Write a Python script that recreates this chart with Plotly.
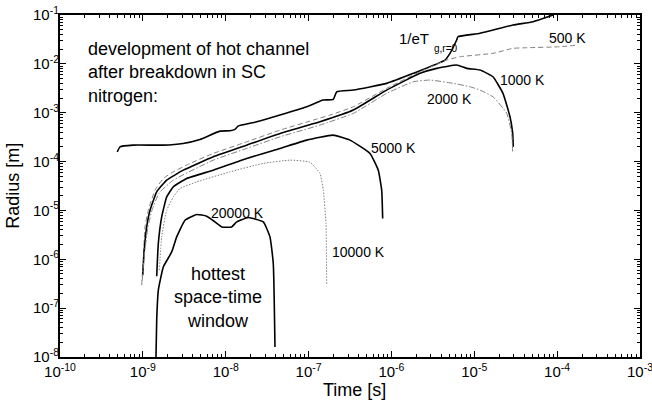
import plotly.graph_objects as go

# ---- data (time [s], radius [m]) ----
t_eT = [4.91e-10, 5.30e-10, 7.60e-10, 1.75e-9, 3.05e-9, 4.89e-9, 8.53e-9, 1.126e-8, 1.294e-8, 1.406e-8,
        2.365e-8, 4.52e-8, 9.49e-8, 1.493e-7, 1.987e-7, 2.185e-7, 3.465e-7, 8.76e-7, 1.835e-6, 4.43e-6,
        5.09e-6, 6.13e-6, 6.36e-6, 1.172e-5, 2.93e-5, 5.11e-5, 8.91e-5]
r_eT = [1.58e-4, 2.00e-4, 2.17e-4, 2.17e-4, 2.35e-4, 2.84e-4, 4.20e-4, 4.26e-4, 4.55e-4, 5.32e-4,
        6.52e-4, 8.94e-4, 1.322e-3, 1.814e-3, 1.875e-3, 2.683e-3, 2.906e-3, 3.99e-3, 6.39e-3, 1.197e-2,
        1.642e-2, 3.075e-2, 3.59e-2, 4.22e-2, 6.24e-2, 7.29e-2, 1.0e-1]

t_500 = [9.68e-10, 1.012e-9, 1.061e-9, 1.163e-9, 1.401e-9, 1.765e-9, 2.33e-9, 3.71e-9, 7.08e-9, 1.791e-8,
         4.52e-8, 1.140e-7, 1.813e-7, 3.465e-7, 8.76e-7, 2.212e-6, 4.64e-6, 6.72e-6, 1.681e-5, 2.93e-5,
         4.33e-5, 1.082e-4, 1.784e-4]
r_500 = [2.94e-7, 9.56e-7, 4.60e-6, 1.011e-5, 2.598e-5, 4.51e-5, 6.16e-5, 9.16e-5, 1.468e-4, 2.536e-4,
         4.40e-4, 7.06e-4, 8.94e-4, 1.322e-3, 3.15e-3, 6.89e-3, 1.197e-2, 1.399e-2, 1.642e-2, 2.078e-2,
         2.14e-2, 2.24e-2, 2.43e-2]

t_1000 = [9.96e-10, 1.032e-9, 1.112e-9, 1.22e-9, 1.469e-9, 1.94e-9, 3.08e-9, 7.08e-9, 1.791e-8, 4.52e-8,
          1.373e-7, 3.465e-7, 8.76e-7, 2.212e-6, 3.52e-6, 6.13e-6, 8.10e-6, 1.172e-5, 1.681e-5, 2.22e-5,
          2.698e-5, 2.906e-5, 2.955e-5]
r_1000 = [4.71e-7, 1.33e-6, 4.60e-6, 1.011e-5, 2.398e-5, 4.16e-5, 6.67e-5, 1.25e-4, 2.17e-4, 3.77e-4,
          6.52e-4, 1.132e-3, 2.906e-3, 6.39e-3, 8.09e-3, 9.45e-3, 8.09e-3, 7.47e-3, 5.44e-3, 2.488e-3,
          8.25e-4, 3.82e-4, 2.00e-4]

t_2000 = [9.82e-10, 1.046e-9, 1.153e-9, 1.289e-9, 1.566e-9, 2.33e-9, 7.08e-9, 1.791e-8, 4.52e-8, 1.373e-7,
          3.465e-7, 8.76e-7, 1.835e-6, 2.92e-6, 5.58e-6, 8.87e-6, 1.172e-5, 1.681e-5, 2.46e-5, 2.827e-5,
          2.906e-5]
r_2000 = [3.72e-7, 1.33e-6, 4.60e-6, 1.011e-5, 2.255e-5, 4.16e-5, 1.07e-4, 1.858e-4, 3.21e-4, 5.58e-4,
          9.68e-4, 2.488e-3, 4.30e-3, 4.66e-3, 3.99e-3, 3.40e-3, 2.906e-3, 2.12e-3, 9.82e-4, 3.82e-4,
          1.58e-4]

t_5000 = [1.469e-9, 1.536e-9, 1.688e-9, 1.94e-9, 2.33e-9, 3.38e-9, 7.08e-9, 1.791e-8, 4.52e-8, 9.49e-8,
          1.971e-7, 3.16e-7, 5.51e-7, 6.94e-7, 7.63e-7, 7.84e-7]
r_5000 = [4.49e-7, 2.10e-6, 7.37e-6, 1.894e-5, 3.035e-5, 4.51e-5, 6.67e-5, 1.159e-4, 1.858e-4, 2.75e-4,
          3.48e-4, 2.75e-4, 1.468e-4, 6.67e-5, 2.598e-5, 6.84e-6]

t_10000 = [1.579e-9, 1.688e-9, 1.94e-9, 2.33e-9, 2.81e-9, 4.47e-9, 1.126e-8, 2.84e-8, 5.97e-8, 1.04e-7,
           1.373e-7, 1.505e-7, 1.623e-7, 1.654e-7]
r_10000 = [5.97e-7, 2.87e-6, 1.011e-5, 1.894e-5, 2.815e-5, 3.84e-5, 6.16e-5, 9.16e-5, 1.07e-4, 9.73e-5,
           5.71e-5, 2.598e-5, 5.40e-6, 2.94e-7]

t_20000 = [1.44e-9, 1.469e-9, 1.536e-9, 1.765e-9, 2.23e-9, 2.56e-9, 3.23e-9, 4.47e-9, 5.89e-9, 7.42e-9,
           8.94e-9, 1.18e-8, 1.357e-8, 1.873e-8, 2.84e-8, 3.42e-8, 3.75e-8, 3.93e-8]
r_20000 = [1.0e-8, 5.64e-8, 2.32e-7, 6.97e-7, 1.415e-6, 2.87e-6, 6.31e-6, 8.26e-6, 7.62e-6, 5.82e-6,
           4.60e-6, 4.60e-6, 5.82e-6, 7.17e-6, 5.82e-6, 2.87e-6, 8.18e-7, 1.60e-8]

x_exps = [-10, -9, -8, -7, -6, -5, -4, -3]
y_exps = [-8, -7, -6, -5, -4, -3, -2, -1]
x_ticktext = ["10<sup>%d</sup>" % e for e in x_exps]
y_ticktext = ["10<sup>%d</sup>" % e for e in y_exps]

FONT = "Liberation Sans, Arial, Helvetica, sans-serif"
GRAY = "#7f7f7f"

series = [
    (t_eT, r_eT, dict(color="black", width=1.6)),
    (t_500, r_500, dict(color=GRAY, width=1, dash="5px,3px")),
    (t_1000, r_1000, dict(color="black", width=1.6)),
    (t_2000, r_2000, dict(color=GRAY, width=1, dash="6px,2px,1.5px,2px")),
    (t_5000, r_5000, dict(color="black", width=1.6)),
    (t_10000, r_10000, dict(color=GRAY, width=1, dash="1.5px,1.5px")),
    (t_20000, r_20000, dict(color="black", width=1.6)),
]

fig = go.Figure()
for tx, ry, ln in series:
    fig.add_trace(go.Scatter(x=tx, y=ry, mode="lines", line=dict(shape="spline", smoothing=0.4, **ln),
                             showlegend=False, hoverinfo="skip"))

axis_common = dict(
    type="log", showgrid=False, zeroline=False, automargin=False,
    showline=True, linecolor="black", linewidth=2, mirror="ticks",
    ticks="inside", ticklen=6, tickwidth=1, tickcolor="black",
    minor=dict(ticks="inside", ticklen=3, tickwidth=1, tickcolor="black", dtick="D1", showgrid=False),
    tickfont=dict(family=FONT, size=15, color="black"),
    tickmode="array", ticklabeloverflow="allow",
)

fig.update_xaxes(range=[-10.0001, -2.9999], tickvals=[10.0 ** e for e in x_exps], ticktext=x_ticktext,
                 **axis_common)
fig.update_yaxes(range=[-8.0001, -0.9999], tickvals=[10.0 ** e for e in y_exps], ticktext=y_ticktext,
                 ticklabelstandoff=-4, **axis_common)

def ann(text, x, y, size=14, xanchor="center", align="center", textangle=0):
    fig.add_annotation(text=text, x=x, y=y, xref="paper", yref="paper", showarrow=False,
                       xanchor=xanchor, yanchor="middle", align=align, textangle=textangle,
                       font=dict(family=FONT, size=size, color="black"))

# axis titles
ann("Time [s]", 0.5069, -0.0976, size=18)
ann("Radius [m]", -0.0815, 0.5, size=18, textangle=-90)

ann("development of hot channel<br>after breakdown in SC<br>nitrogen:", 0.0448, 0.8317, size=18,
    xanchor="left", align="left")
ann("1/eT", 0.5805, 0.9318, size=15, xanchor="left")
ann("g,r=0", 0.6409, 0.9026, size=10, xanchor="left")
ann("500 K", 0.8747, 0.9318)
ann("1000 K", 0.7974, 0.8098)
ann("2000 K", 0.6721, 0.7542)
ann("5000 K", 0.5747, 0.6099)
ann("10000 K", 0.5143, 0.3073)
ann("20000 K", 0.3060, 0.4197)
ann("hottest<br>space-time<br>window", 0.2724, 0.1738, size=18)

fig.update_layout(
    width=652, height=402,
    margin=dict(l=60, r=12, t=15, b=45),
    paper_bgcolor="white", plot_bgcolor="white",
    font=dict(family=FONT, color="black"),
)

fig.write_html("out.html", config={"displayModeBar": False},
               post_script="document.body.style.margin='0';document.body.style.overflow='hidden';")
